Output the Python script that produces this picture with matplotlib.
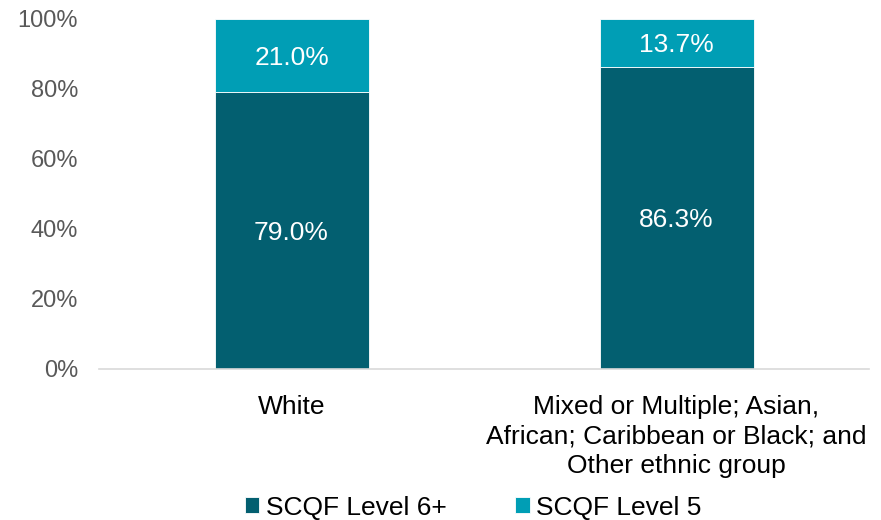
import numpy as np
import matplotlib.pyplot as plt

plt.rcParams['font.family'] = ['Liberation Sans', 'DejaVu Sans']

groups = ["White",
          "Mixed or Multiple; Asian,\nAfrican; Caribbean or Black; and\nOther ethnic group"]
level6 = [79.0, 86.3]
level5 = [21.0, 13.7]

dark = "#035F70"
light = "#009EB5"

fig = plt.figure(figsize=(8.81, 5.2), dpi=100)
ax = fig.add_axes([0.1124, 0.2904, 0.8740, 0.6731])

x = np.arange(len(groups))
b6 = ax.bar(x, level6, width=0.4, color=dark, edgecolor="white", linewidth=0.6,
            label="SCQF Level 6+")
b5 = ax.bar(x, level5, width=0.4, bottom=level6, color=light, edgecolor="white",
            linewidth=0.6, label="SCQF Level 5")

# value labels centred in each segment
for xi, v6, v5 in zip(x, level6, level5):
    ax.text(xi, v6 / 2, f"{v6:.1f}%", ha="center", va="center_baseline",
            color="white", fontsize=19)
    ax.text(xi, v6 + v5 / 2, f"{v5:.1f}%", ha="center", va="center_baseline",
            color="white", fontsize=19)

ax.set_xlim(-0.5, 1.5)
ax.set_ylim(0, 100)
ax.set_yticks(range(0, 101, 20))
ax.set_yticklabels([f"{t}%" for t in range(0, 101, 20)])
ax.set_xticks(x)
ax.set_xticklabels(groups, fontsize=19, color="black", linespacing=1.27)
ax.tick_params(axis="y", labelsize=17, labelcolor="#595959", length=0, pad=15)
ax.tick_params(axis="x", length=0, pad=19)

for s in ["top", "right", "left"]:
    ax.spines[s].set_visible(False)
ax.spines["bottom"].set_color("#D9D9D9")
ax.spines["bottom"].set_linewidth(1.2)

fig.legend(handles=[b6, b5], loc="lower center", bbox_to_anchor=(0.537, -0.045), ncol=2,
           frameon=False, fontsize=19, handlelength=0.55, handleheight=0.55,
           handletextpad=0.25, columnspacing=2.6)

fig.savefig("out.png", dpi=100)
